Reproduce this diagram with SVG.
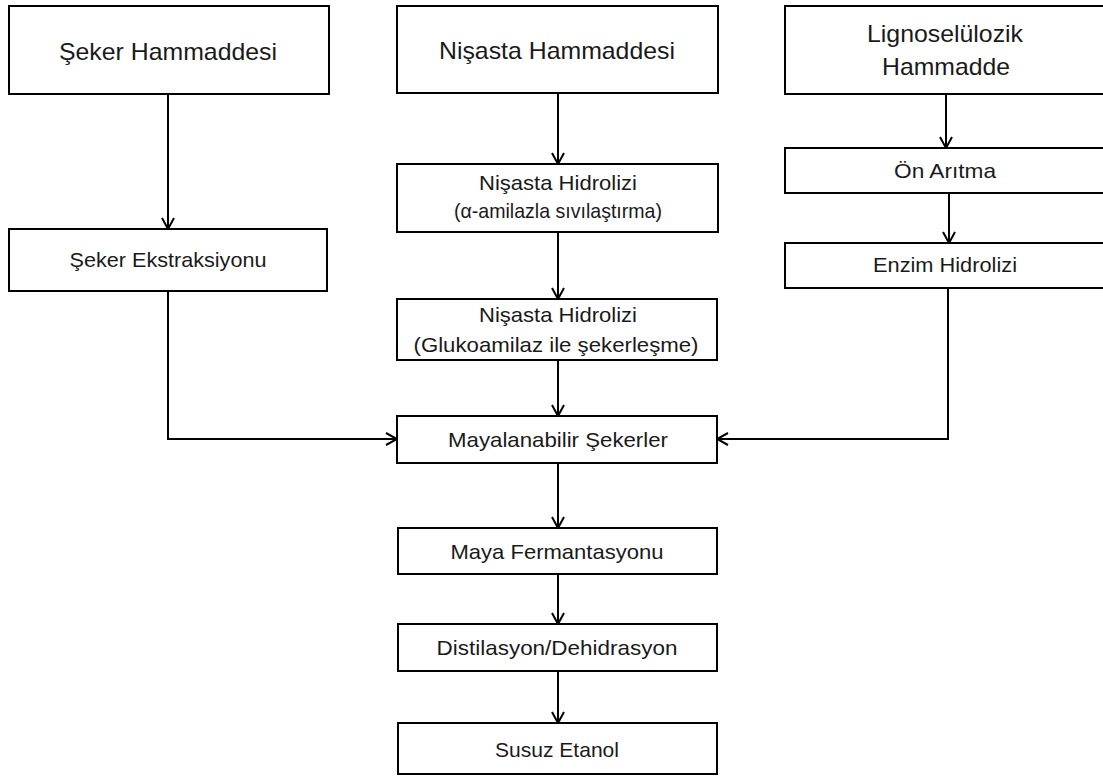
<svg xmlns="http://www.w3.org/2000/svg" width="1103" height="776" viewBox="0 0 1103 776">
<style>
.box{fill:#fff;stroke:#000;stroke-width:2}
.t{font-family:"Liberation Sans","Open Sans",Arial,sans-serif;fill:#1a1a1a;text-anchor:middle}
.big{font-size:24px}
.sm{font-size:21px}
.c{fill:none;stroke:#000;stroke-width:2}
</style>
<defs>
<marker id="ah" viewBox="0 0 14 14" refX="12" refY="7" markerWidth="14" markerHeight="14" markerUnits="userSpaceOnUse" orient="auto">
<path d="M1,1 L12,7 L1,13" fill="none" stroke="#000" stroke-width="2"/>
</marker>
</defs>
<rect width="1103" height="776" fill="#fff"/>
<g id="connectors">
<line class="c" x1="168" y1="94" x2="168" y2="229" marker-end="url(#ah)"/>
<line class="c" x1="558" y1="93" x2="558" y2="164" marker-end="url(#ah)"/>
<line class="c" x1="558" y1="232" x2="558" y2="299" marker-end="url(#ah)"/>
<line class="c" x1="558" y1="360" x2="558" y2="416" marker-end="url(#ah)"/>
<line class="c" x1="946" y1="94" x2="946" y2="148" marker-end="url(#ah)"/>
<line class="c" x1="949" y1="193" x2="949" y2="243" marker-end="url(#ah)"/>
<path class="c" d="M168,291 V439 H397" marker-end="url(#ah)"/>
<path class="c" d="M948,288 V439 H717" marker-end="url(#ah)"/>
<line class="c" x1="558" y1="463" x2="558" y2="528" marker-end="url(#ah)"/>
<line class="c" x1="558" y1="574" x2="558" y2="624" marker-end="url(#ah)"/>
<line class="c" x1="558" y1="671" x2="558" y2="723" marker-end="url(#ah)"/>
</g>
<g id="n1"><rect class="box" x="9" y="6" width="320" height="88"/><text class="t big" x="168" y="60" textLength="218" lengthAdjust="spacingAndGlyphs">Şeker Hammaddesi</text></g>
<g id="n2"><rect class="box" x="397" y="6" width="321" height="87"/><text class="t big" x="557" y="59" textLength="236" lengthAdjust="spacingAndGlyphs">Nişasta Hammaddesi</text></g>
<g id="n3"><rect class="box" x="785" y="6" width="322" height="88"/><text class="t big" x="945" y="42" textLength="156" lengthAdjust="spacingAndGlyphs">Lignoselülozik</text><text class="t big" x="946" y="75" textLength="128" lengthAdjust="spacingAndGlyphs">Hammadde</text></g>
<g id="n4"><rect class="box" x="9" y="229" width="318" height="62"/><text class="t sm" x="168" y="267" textLength="197" lengthAdjust="spacingAndGlyphs">Şeker Ekstraksiyonu</text></g>
<g id="n5"><rect class="box" x="397" y="164" width="321" height="68"/><text class="t sm" x="558" y="190" textLength="158" lengthAdjust="spacingAndGlyphs">Nişasta Hidrolizi</text><text class="t sm" x="558" y="218" textLength="208" lengthAdjust="spacingAndGlyphs">(α-amilazla sıvılaştırma)</text></g>
<g id="n6"><rect class="box" x="785" y="148" width="322" height="45"/><text class="t sm" x="945" y="178" textLength="102" lengthAdjust="spacingAndGlyphs">Ön Arıtma</text></g>
<g id="n7"><rect class="box" x="785" y="243" width="322" height="45"/><text class="t sm" x="945" y="272" textLength="144" lengthAdjust="spacingAndGlyphs">Enzim Hidrolizi</text></g>
<g id="n8"><rect class="box" x="397" y="299" width="320" height="61"/><text class="t sm" x="558" y="322" textLength="158" lengthAdjust="spacingAndGlyphs">Nişasta Hidrolizi</text><text class="t sm" x="556" y="352" textLength="285" lengthAdjust="spacingAndGlyphs">(Glukoamilaz ile şekerleşme)</text></g>
<g id="n9"><rect class="box" x="397" y="416" width="320" height="47"/><text class="t sm" x="558" y="447" textLength="220" lengthAdjust="spacingAndGlyphs">Mayalanabilir Şekerler</text></g>
<g id="n10"><rect class="box" x="398" y="528" width="319" height="46"/><text class="t sm" x="557" y="559" textLength="213" lengthAdjust="spacingAndGlyphs">Maya Fermantasyonu</text></g>
<g id="n11"><rect class="box" x="398" y="624" width="319" height="47"/><text class="t sm" x="557" y="655" textLength="241" lengthAdjust="spacingAndGlyphs">Distilasyon/Dehidrasyon</text></g>
<g id="n12"><rect class="box" x="398" y="723" width="319" height="51"/><text class="t sm" x="557" y="757" textLength="124" lengthAdjust="spacingAndGlyphs">Susuz Etanol</text></g>
</svg>
